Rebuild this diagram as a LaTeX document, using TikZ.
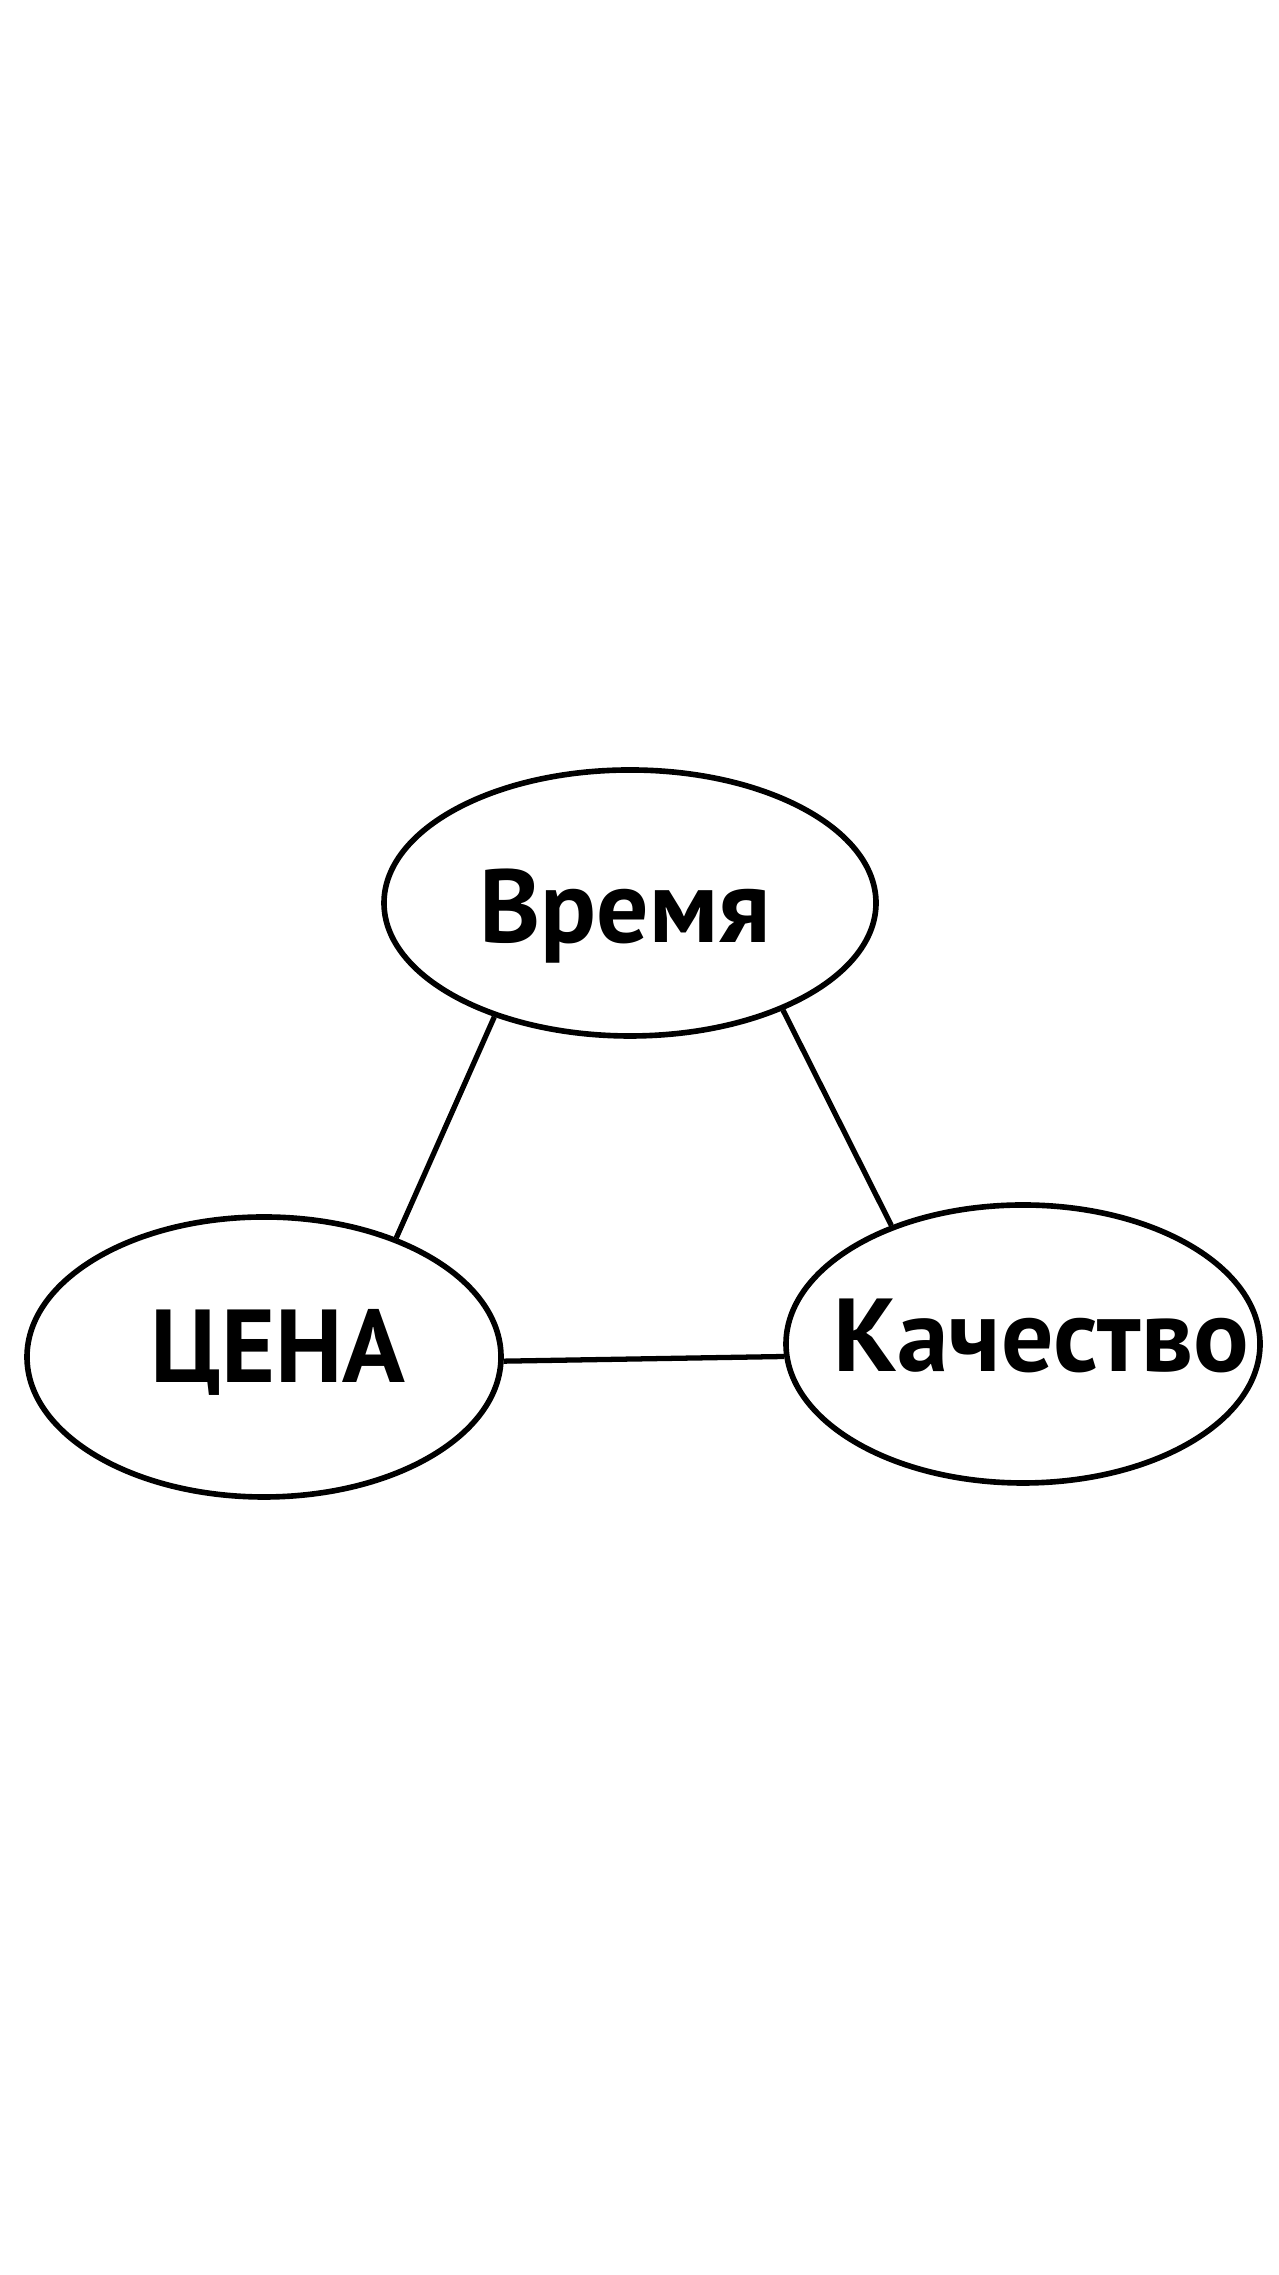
\documentclass[tikz,border=0pt]{standalone}
\usepackage{fontspec}
\setmainfont{PT Sans}
\usetikzlibrary{shapes.geometric}

\begin{document}
\begin{tikzpicture}
    \useasboundingbox (0,0) rectangle (25.56,45.5);
    \tikzset{
      bubble/.style={draw,ellipse,line width=3.2pt,inner sep=0pt},
      word/.style={anchor=base,inner sep=0pt,font=\bfseries\fontsize{59}{62}\selectfont},
      link/.style={line width=3pt}
    }

    \node[bubble,minimum width=9.84cm,minimum height=5.32cm] (time) at (12.6,27.44) {};
    \node[bubble,minimum width=9.48cm,minimum height=5.6cm] (price) at (5.28,18.36) {};
    \node[bubble,minimum width=9.48cm,minimum height=5.56cm] (quality) at (20.46,18.62) {};
        % Words sit on their own baselines
    \node[word] (timetext) at (12.5,26.64) {Время};
    \node[word] (pricetext) at (5.56,17.84) {ЦЕНА};
    \node[word] (qualitytext) at (20.82,18.06) {Качество};

    \draw [link] (time.220.7) -- (price.42.9);% left side
    \draw [link] (time.325.6) -- (quality.138.5);% right side
    \draw [link] (price.-1) -- (quality.183.4);% bottom side

\end{tikzpicture}
\end{document}
